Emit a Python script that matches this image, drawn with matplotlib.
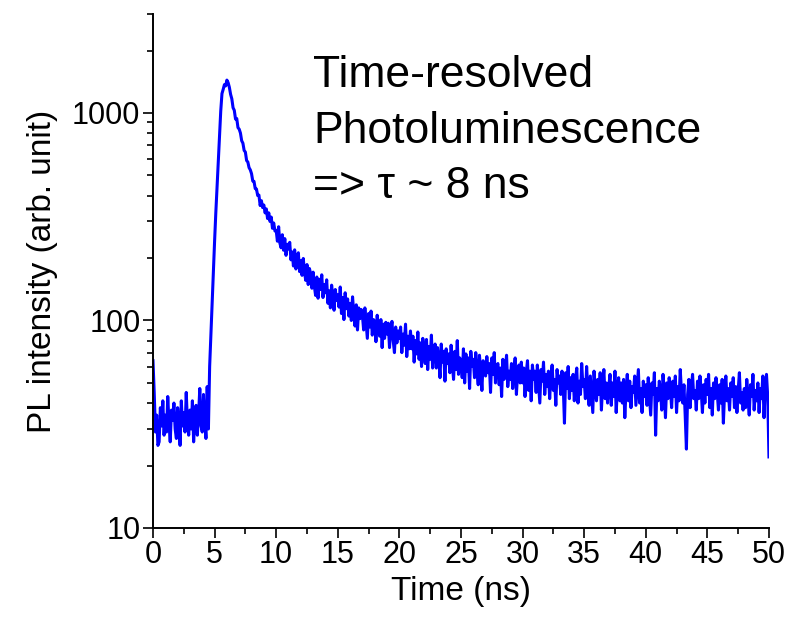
import numpy as np
import matplotlib
matplotlib.use("Agg")
import matplotlib.pyplot as plt
from matplotlib.ticker import LogLocator, NullFormatter, FixedLocator, MultipleLocator

plt.rcParams['font.family'] = ['Liberation Sans', 'DejaVu Sans']

# time axis, 0.1 ns steps
time_ns = np.round(np.arange(0, 50.05, 0.1), 1)

# PL counts, one row per ns
pl_counts = [
    64, 45, 29, 35, 25, 26, 38, 31, 41, 28,
    35, 29, 43, 32, 26, 37, 33, 40, 30, 27,
    38, 33, 25, 41, 31, 36, 29, 45, 32, 28,
    37, 30, 41, 26, 34, 39, 28, 35, 47, 31,
    29, 44, 33, 27, 48, 30, 60, 85, 120, 170,
    240, 330, 440, 600, 800, 1020, 1240, 1300, 1370, 1350,
    1440, 1400, 1330, 1230, 1170, 1060, 1030, 935, 940, 850,
    835, 800, 735, 715, 660, 648, 590, 580, 545, 532,
    510, 470, 468, 432, 430, 400, 402, 358, 378, 350,
    360, 330, 345, 310, 330, 300, 315, 278, 295, 270,
    272, 241, 283, 236, 224, 259, 218, 248, 206, 233,
    221, 238, 196, 214, 183, 219, 177, 205, 212, 172,
    194, 165, 199, 171, 156, 186, 149, 178, 168, 143,
    171, 146, 132, 162, 128, 158, 141, 166, 129, 149,
    136, 157, 121, 139, 115, 148, 131, 112, 141, 125,
    133, 116, 145, 108, 129, 101, 136, 114, 127, 105,
    121, 100, 130, 108, 94, 119, 90, 115, 102, 113,
    106, 90, 115, 97, 82, 108, 93, 111, 85, 101,
    99, 79, 106, 90, 84, 101, 74, 96, 82, 98,
    86, 97, 74, 90, 99, 80, 70, 93, 78, 89,
    82, 93, 70, 86, 76, 96, 67, 84, 73, 89,
    73, 84, 63, 80, 69, 88, 65, 78, 60, 82,
    72, 62, 81, 58, 75, 65, 85, 59, 71, 77,
    59, 74, 66, 53, 77, 63, 71, 51, 73, 62,
    69, 56, 76, 61, 52, 71, 58, 80, 55, 66,
    63, 53, 73, 50, 69, 57, 66, 47, 71, 60,
    65, 53, 70, 57, 49, 68, 58, 46, 64, 56,
    54, 67, 56, 62, 45, 66, 55, 70, 50, 60,
    62, 49, 59, 43, 65, 52, 58, 68, 48, 57,
    52, 62, 47, 58, 66, 44, 56, 61, 50, 63,
    50, 59, 43, 56, 64, 46, 57, 41, 61, 52,
    57, 45, 61, 49, 40, 58, 51, 63, 44, 55,
    48, 57, 42, 54, 61, 46, 52, 39, 58, 50,
    54, 44, 57, 49, 32, 56, 47, 60, 42, 53,
    46, 55, 41, 52, 59, 40, 51, 44, 62, 48,
    52, 42, 60, 46, 39, 54, 44, 36, 57, 47,
    41, 52, 44, 56, 37, 49, 58, 42, 50, 40,
    48, 55, 39, 50, 43, 57, 36, 47, 53, 41,
    50, 40, 52, 34, 46, 55, 41, 51, 38, 48,
    45, 54, 39, 48, 58, 40, 47, 36, 51, 43,
    49, 39, 53, 43, 35, 50, 44, 56, 28, 47,
    41, 51, 45, 37, 55, 46, 34, 50, 42, 53,
    47, 38, 51, 43, 54, 36, 48, 41, 58, 45,
    40, 49, 35, 24, 44, 52, 38, 47, 55, 42,
    46, 37, 51, 42, 54, 46, 36, 49, 40, 52,
    44, 55, 38, 47, 35, 50, 42, 53, 45, 37,
    49, 40, 52, 32, 45, 54, 41, 47, 37, 50,
    43, 53, 38, 48, 36, 46, 56, 40, 45, 37,
    47, 38, 52, 42, 35, 49, 43, 55, 37, 46,
    41, 50, 36, 47, 42, 54, 34, 48, 55, 43,
    22,
]

y_ticks = [10, 100, 1000]
y_tick_labels = ['10', '100', '1000']
x_ticks = [0, 5, 10, 15, 20, 25, 30, 35, 40, 45, 50]

fig = plt.figure(figsize=(7.98, 6.29), dpi=100)
ax = fig.add_axes([0.1917, 0.1606, 0.7719, 0.8172])

ax.plot(time_ns, pl_counts, color='#0000ff', lw=2.2)

ax.set_yscale('log')
ax.set_xlim(0, 50)
ax.set_ylim(10, 3000)

ax.spines['top'].set_visible(False)
ax.spines['right'].set_visible(False)
for s in ['left', 'bottom']:
    ax.spines[s].set_linewidth(1.4)

ax.yaxis.set_major_locator(FixedLocator(y_ticks))
ax.set_yticklabels(y_tick_labels)
ax.yaxis.set_minor_locator(LogLocator(base=10, subs=np.arange(2, 10)))
ax.yaxis.set_minor_formatter(NullFormatter())
ax.set_xticks(x_ticks)
ax.xaxis.set_minor_locator(MultipleLocator(2.5))

ax.tick_params(which='major', length=7, width=1.2, labelsize=22, pad=2)
ax.tick_params(which='minor', length=4, width=1.2)

ax.set_xlabel('Time (ns)', fontsize=24, labelpad=4)
ax.set_ylabel('PL intensity (arb. unit)', fontsize=24, labelpad=10)

fig.text(313 / 798, 1 - 87 / 629, 'Time-resolved', fontsize=32, va='baseline')
fig.text(313 / 798, 1 - 143 / 629, 'Photoluminescence', fontsize=32, va='baseline')
fig.text(313 / 798, 1 - 198 / 629, '=> τ ~ 8 ns', fontsize=32, va='baseline')

fig.savefig('out.png', dpi=100)
